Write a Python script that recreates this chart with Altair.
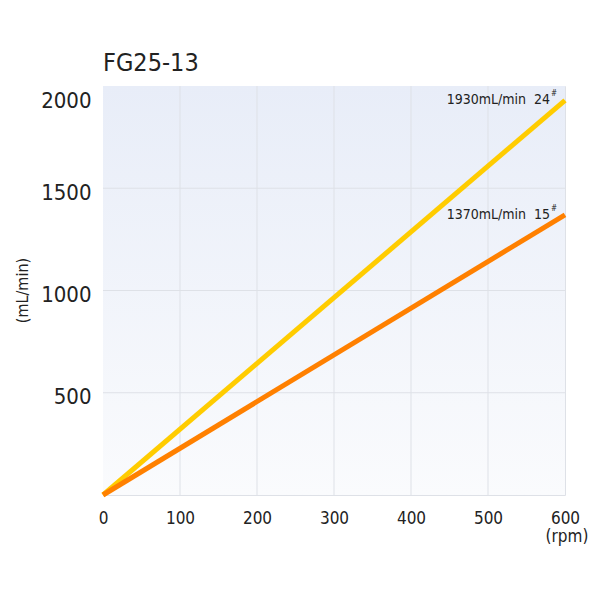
import altair as alt
import pandas as pd

# ---- data ----
rpm = [0, 600]
flow_24 = [0, 1930]
flow_15 = [0, 1370]
series_names = ["24#", "15#"]
label_texts = ["1930mL/min\u00a0\u00a024", "1370mL/min\u00a0\u00a015"]
label_rpm = [600, 600]
label_flow = [1930, 1370]
x_ticks = [0, 100, 200, 300, 400, 500, 600]
y_ticks = [500, 1000, 1500, 2000]
x_grid = [100, 200, 300, 400, 500]
y_grid = [500, 1000, 1500]

FONT = "Liberation Sans Narrow, DejaVu Sans Condensed, Arial Narrow, sans-serif"
GRID = "#dee1e7"

lines_df = pd.DataFrame({
    "rpm": rpm + rpm,
    "flow": flow_24 + flow_15,
    "series": [series_names[0]] * 2 + [series_names[1]] * 2,
})
labels_df = pd.DataFrame({"rpm": label_rpm, "flow": label_flow, "text": label_texts})
bg_df = pd.DataFrame({"x0": [0], "x1": [600], "y0": [0], "y1": [2000]})
xg_df = pd.DataFrame({"v": x_grid})
yg_df = pd.DataFrame({"v": y_grid})

xscale = alt.Scale(domain=[0, 600], nice=False)
yscale = alt.Scale(domain=[0, 2000], nice=False)

xaxis = alt.Axis(values=x_ticks, grid=False, domain=False, ticks=False, tickSize=0,
                 labelFontSize=17, labelPadding=15, labelFont=FONT, labelColor="#222222",
                 labelFlush=False, format="d", title=None)
yaxis = alt.Axis(values=y_ticks, grid=False, domain=False, ticks=False, tickSize=0,
                 labelFontSize=22, labelPadding=12, labelFont=FONT, labelColor="#222222",
                 labelOffset=4, labelFlush=True, labelFlushOffset=0, format="d",
                 title="(mL/min)", titleFont=FONT, titleFontSize=16, titleFontWeight="normal",
                 titleColor="#222222", titleAngle=270, titleX=-81, titleY=204,
                 titleAlign="center", titleBaseline="middle")

gradient = alt.LinearGradient(
    gradient="linear",
    stops=[alt.GradientStop(color="#e8edf8", offset=0),
           alt.GradientStop(color="#fafbfd", offset=1)],
    x1=0, x2=0, y1=0, y2=1,
)

bg = alt.Chart(bg_df).mark_rect(color=gradient).encode(
    x=alt.X("x0:Q", scale=xscale, axis=xaxis),
    x2="x1:Q",
    y=alt.Y("y0:Q", scale=yscale, axis=yaxis),
    y2="y1:Q",
)

xg = alt.Chart(xg_df).mark_rule(color=GRID, strokeWidth=1).encode(
    x=alt.X("v:Q", scale=xscale)
)
yg = alt.Chart(yg_df).mark_rule(color=GRID, strokeWidth=1).encode(
    y=alt.Y("v:Q", scale=yscale)
)

lines = alt.Chart(lines_df).mark_line(strokeWidth=5, strokeCap="butt").encode(
    x=alt.X("rpm:Q", scale=xscale),
    y=alt.Y("flow:Q", scale=yscale),
    color=alt.Color("series:N", scale=alt.Scale(domain=series_names,
                                                range=["#ffcc00", "#ff8000"]), legend=None),
)

labels = alt.Chart(labels_df).mark_text(align="right", baseline="middle", dx=-15, dy=0,
                                        fontSize=14, font=FONT, color="#222222").encode(
    x=alt.X("rpm:Q", scale=xscale),
    y=alt.Y("flow:Q", scale=yscale),
    text="text:N",
)
sup = alt.Chart(labels_df).mark_text(align="left", baseline="middle", dx=-14, dy=-6,
                                     fontSize=8, font=FONT, color="#222222").encode(
    x=alt.X("rpm:Q", scale=xscale),
    y=alt.Y("flow:Q", scale=yscale),
    text=alt.value("#"),
)

title = alt.Chart(bg_df).mark_text(align="left", baseline="alphabetic", fontSize=25,
                                   font=FONT, color="#222222").encode(
    x=alt.value(0), y=alt.value(-15), text=alt.value("FG25-13")
)
rpm_label = alt.Chart(bg_df).mark_text(align="center", baseline="middle", fontSize=17,
                                       font=FONT, color="#222222").encode(
    x=alt.value(464), y=alt.value(451), text=alt.value("(rpm)")
)

chart = alt.layer(bg, xg, yg, lines, labels, sup, title, rpm_label).properties(
    width=462, height=409,
    padding={"left": 95, "top": 78, "right": 27, "bottom": 97},
    autosize="none",
    background="white",
).configure_view(stroke=GRID, strokeWidth=1)

chart.save("out.html", embed_options={"renderer": "svg", "actions": False})
